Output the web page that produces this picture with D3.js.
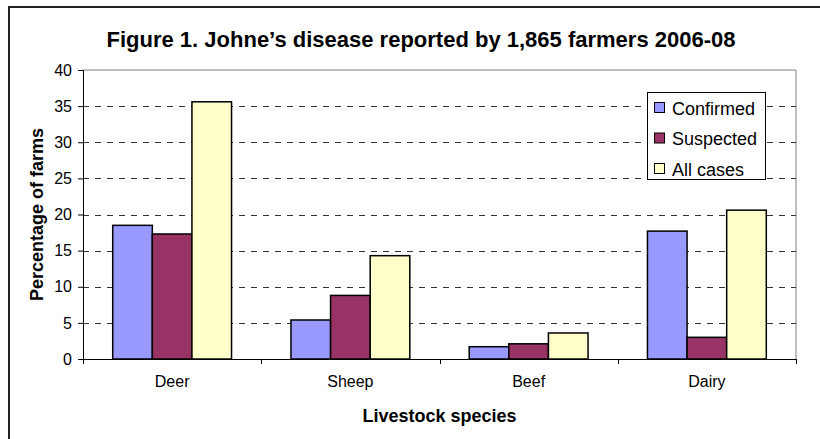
<!DOCTYPE html>
<html>
<head>
<meta charset="utf-8">
<script src="https://cdn.jsdelivr.net/npm/d3@7"></script>
<style>
  html, body { margin: 0; padding: 0; background: #fff; }
  svg { display: block; font-family: Arial, "Liberation Sans", sans-serif; }
</style>
</head>
<body>
<svg id="chart" width="820" height="439"></svg>
<script>
const categories = ["Deer", "Sheep", "Beef", "Dairy"];
const seriesNames = ["Confirmed", "Suspected", "All cases"];
const confirmed = [18.5, 5.4, 1.7, 17.7];
const suspected = [17.3, 8.8, 2.1, 3.0];
const allCases = [35.6, 14.3, 3.6, 20.6];
const yTicks = [0, 5, 10, 15, 20, 25, 30, 35, 40];
const colors = ["#9999FF", "#993366", "#FFFFCC"];
const titleText = "Figure 1. Johne\u2019s disease reported by 1,865 farmers 2006-08";
const xTitle = "Livestock species";
const yTitle = "Percentage of farms";

const seriesValues = [confirmed, suspected, allCases];

const svg = d3.select("#chart");
const m = { left: 83, right: 796, top: 70, bottom: 359 };

// outer chart border (extends beyond the visible area on right/bottom)
svg.append("rect")
  .attr("x", 9).attr("y", 7).attr("width", 840).attr("height", 460)
  .attr("fill", "none").attr("stroke", "#222").attr("stroke-width", 2);

const x0 = d3.scaleBand().domain(categories).range([m.left, m.right]).paddingInner(0).paddingOuter(0);
const barW = x0.bandwidth() / 4.5;
const y = d3.scaleLinear().domain([0, 40]).range([m.bottom, m.top]);

// plot area border (top/right grey)
svg.append("path")
  .attr("d", `M${m.left},${m.top}H${m.right}V${m.bottom}`)
  .attr("fill", "none").attr("stroke", "#808080").attr("stroke-width", 1);

// gridlines
svg.append("g").selectAll("line")
  .data(yTicks.filter(t => t > 0 && t < 40))
  .join("line")
  .attr("x1", m.left).attr("x2", m.right)
  .attr("y1", d => Math.round(y(d)) + 0.5).attr("y2", d => Math.round(y(d)) + 0.5)
  .attr("stroke", "#333").attr("stroke-width", 1)
  .attr("stroke-dasharray", "6,6");

// bars
const groups = svg.append("g").selectAll("g")
  .data(categories)
  .join("g");
groups.each(function(cat, ci) {
  const start = x0(cat) + (x0.bandwidth() - 3 * barW) / 2;
  d3.select(this).selectAll("rect")
    .data(seriesValues.map((s, si) => ({ v: s[ci], si })))
    .join("rect")
    .attr("x", d => start + d.si * barW)
    .attr("width", barW)
    .attr("y", d => y(d.v))
    .attr("height", d => y(0) - y(d.v))
    .attr("fill", d => colors[d.si])
    .attr("stroke", "#000").attr("stroke-width", 1.5);
});

// y axis
const yAxis = svg.append("g")
  .attr("transform", `translate(${m.left},0)`)
  .call(d3.axisLeft(y).tickValues(yTicks).tickSize(5).tickPadding(6).tickFormat(d3.format("d")));
yAxis.select(".domain").attr("stroke", "#000");
yAxis.selectAll(".tick line").attr("stroke", "#000");
yAxis.selectAll("text").attr("font-size", 16).attr("fill", "#000")
  .attr("font-family", "Arial, 'Liberation Sans', sans-serif");

// x axis
const xAxis = svg.append("g")
  .attr("transform", `translate(0,${m.bottom})`)
  .call(d3.axisBottom(x0).tickSize(0).tickPadding(17));
xAxis.select(".domain").attr("stroke", "#000");
xAxis.selectAll("text").attr("font-size", 16).attr("fill", "#000")
  .attr("font-family", "Arial, 'Liberation Sans', sans-serif");
// category boundary ticks
const bounds = categories.map(c => x0(c)).concat([m.right]);
svg.append("g").selectAll("line")
  .data(bounds)
  .join("line")
  .attr("x1", d => Math.round(d) + 0.5).attr("x2", d => Math.round(d) + 0.5)
  .attr("y1", m.bottom).attr("y2", m.bottom + 5)
  .attr("stroke", "#000");

// title
svg.append("text")
  .attr("x", 421).attr("y", 47)
  .attr("text-anchor", "middle")
  .attr("font-size", 22).attr("font-weight", "bold")
  .text(titleText);

// axis titles
svg.append("text")
  .attr("x", (m.left + m.right) / 2).attr("y", 422)
  .attr("text-anchor", "middle")
  .attr("font-size", 18).attr("font-weight", "bold")
  .text(xTitle);
svg.append("text")
  .attr("transform", `translate(43,${(m.top + m.bottom) / 2}) rotate(-90)`)
  .attr("text-anchor", "middle")
  .attr("font-size", 18).attr("font-weight", "bold")
  .text(yTitle);

// legend
const lg = svg.append("g");
lg.append("rect")
  .attr("x", 647.5).attr("y", 92.5).attr("width", 118).attr("height", 87)
  .attr("fill", "#fff").attr("stroke", "#000").attr("stroke-width", 1);
const items = lg.selectAll("g.item")
  .data(seriesNames)
  .join("g")
  .attr("transform", (d, i) => `translate(0,${108 + i * 30.5})`);
items.append("rect")
  .attr("x", 654.5).attr("y", -5.5).attr("width", 10).attr("height", 10)
  .attr("fill", (d, i) => colors[i]).attr("stroke", "#000").attr("stroke-width", 1);
items.append("text")
  .attr("x", 672).attr("y", 6.5)
  .attr("font-size", 18)
  .text(d => d);
</script>
</body>
</html>
